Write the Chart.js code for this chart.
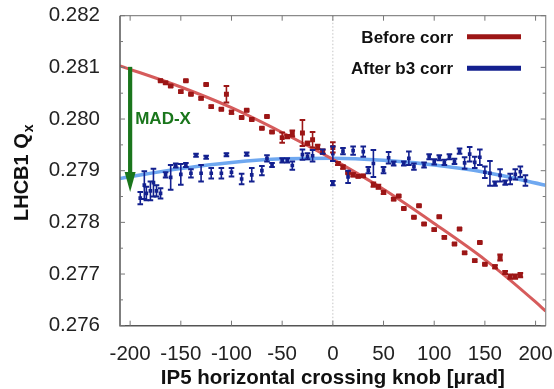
<!DOCTYPE html>
<html><head><meta charset="utf-8">
<script src="https://cdn.jsdelivr.net/npm/chart.js@4/dist/chart.umd.min.js"></script>
<style>html,body{margin:0;padding:0;background:#fff}#wrap{width:554px;height:389px;position:relative}</style>
</head><body><div id="wrap"><canvas id="c"></canvas></div>
<script>
// ---- data ----
const xTicks = [-200,-150,-100,-50,0,50,100,150,200];
const yTicks = [0.276,0.277,0.278,0.279,0.280,0.281,0.282];
const yMinorTicks = [0.2765,0.2775,0.2785,0.2795,0.2805,0.2815];

const redX = [-170,-165,-160,-150,-145,-140,-130,-125,-120,-110,-105,-100,-90,-85,-80,-70,-65,-60,-50,-45,-40,-30,-25,-20,-15,-10,0,5,10,15,20,25,30,40,45,50,60,65,70,80,85,90,100,105,110,120,125,130,140,145,150,160,165,170,175,180,185];
const redY = [0.28074,0.28070,0.28064,0.28053,0.28074,0.28048,0.28040,0.28067,0.28024,0.28019,0.28048,0.28013,0.28003,0.28017,0.27999,0.27982,0.28005,0.27975,0.27964,0.27966,0.27972,0.27973,0.27953,0.27960,0.27946,0.27937,0.27945,0.27914,0.27907,0.27896,0.27892,0.27889,0.27890,0.27873,0.27869,0.27858,0.27845,0.27851,0.27827,0.27810,0.27832,0.27797,0.27786,0.27811,0.27771,0.27758,0.27787,0.27741,0.27726,0.27761,0.27719,0.27714,0.27732,0.27703,0.27695,0.27695,0.27698];
const redErr = [0.00002,0.00002,0.00002,0.00002,0.00002,0.00002,0.00002,0.00002,0.00002,0.00002,0.00016,0.00003,0.00002,0.00002,0.00002,0.00002,0.00002,0.00002,0.00010,0.00003,0.00006,0.00025,0.00003,0.00015,0.00004,0.00004,0.00010,0.00003,0.00003,0.00002,0.00003,0.00002,0.00002,0.00004,0.00004,0.00003,0.00002,0.00002,0.00002,0.00002,0.00002,0.00002,0.00002,0.00002,0.00002,0.00002,0.00002,0.00002,0.00002,0.00002,0.00002,0.00003,0.00006,0.00003,0.00004,0.00004,0.00004];

const blueX = [-190,-186,-184,-180,-177,-174,-170,-165,-160,-155,-150,-145,-140,-135,-130,-125,-120,-110,-105,-100,-90,-85,-80,-70,-65,-60,-50,-45,-40,-30,-25,-20,-10,0,0,10,15,20,30,35,40,50,55,60,70,75,80,90,95,100,105,110,115,120,125,130,135,140,145,150,155,160,165,170,175,180,185,190];
const blueY = [0.27847,0.27872,0.27856,0.27861,0.27877,0.27861,0.27856,0.27892,0.27887,0.27910,0.27893,0.27911,0.27895,0.27930,0.27895,0.27926,0.27895,0.27895,0.27931,0.27897,0.27884,0.27932,0.27892,0.27900,0.27924,0.27911,0.27920,0.27920,0.27910,0.27931,0.27928,0.27929,0.27937,0.27933,0.27876,0.27938,0.27888,0.27939,0.27937,0.27901,0.27914,0.27901,0.27925,0.27914,0.27914,0.27924,0.27908,0.27911,0.27927,0.27917,0.27925,0.27916,0.27927,0.27918,0.27938,0.27915,0.27932,0.27916,0.27926,0.27897,0.27895,0.27875,0.27891,0.27877,0.27884,0.27893,0.27898,0.27881];
const blueErr = [0.00012,0.00027,0.00013,0.00018,0.00027,0.00011,0.00010,0.00005,0.00024,0.00004,0.00020,0.00004,0.00008,0.00003,0.00016,0.00003,0.00010,0.00010,0.00003,0.00008,0.00010,0.00003,0.00013,0.00009,0.00006,0.00004,0.00004,0.00004,0.00008,0.00010,0.00006,0.00011,0.00004,0.00014,0.00004,0.00006,0.00012,0.00008,0.00010,0.00006,0.00026,0.00006,0.00011,0.00004,0.00004,0.00013,0.00006,0.00005,0.00005,0.00005,0.00005,0.00005,0.00005,0.00005,0.00005,0.00011,0.00014,0.00011,0.00015,0.00011,0.00024,0.00004,0.00012,0.00004,0.00010,0.00010,0.00010,0.00010];

const redFitX = [-210,-150,-100,-50,0,50,100,150,200,210];
const redFitY = [0.28103,0.28062,0.28022,0.27974,0.27922,0.27864,0.27798,0.27728,0.27646,0.27628];
const blueFitX = [-210,-150,-100,-50,0,50,100,150,210];
const blueFitY = [0.27885,0.27904,0.27916,0.27923,0.27924,0.27920,0.27911,0.27897,0.27872];

const legendLabels = ['Before corr','After b3 corr'];
const arrowLabel = 'MAD-X';
const arrowX = -200, arrowTop = 0.28101, arrowTip = 0.27859;
const arrowLabelX = -195, arrowLabelY = 0.27999;
const xTitle = 'IP5 horizontal crossing knob [\u03bcrad]';
const yTitleMain = 'LHCB1 Q', yTitleSub = 'x';

// ---- styling ----
const FONT = '"Liberation Sans", Arial, Helvetica, sans-serif';
const RED = '#9c1616', BLUE = '#13208f', RED_FIT = '#d65c5c', BLUE_FIT = '#6fa8f0', GREEN = '#1a761c';

const pts = (xs, ys) => xs.map((v, i) => ({x: v, y: ys[i]}));
const noPad = s => { s.paddingLeft = 0; s.paddingRight = 0; s.paddingTop = 0; s.paddingBottom = 0; };

const deco = {
  id: 'deco',
  beforeDatasetsDraw(chart) {
    const {ctx, chartArea: a, scales: {x}} = chart;
    ctx.save();
    const zx = x.getPixelForValue(0);
    ctx.strokeStyle = '#c4c4c4'; ctx.lineWidth = 1; ctx.setLineDash([1.5, 2]);
    ctx.beginPath(); ctx.moveTo(zx, a.top); ctx.lineTo(zx, a.bottom); ctx.stroke();
    ctx.restore();
  },
  afterDatasetsDraw(chart) {
    const {ctx, chartArea: a, scales: {x, y}} = chart;
    ctx.save();
    // error bars
    const bars = (xs, ys, es, col) => {
      ctx.strokeStyle = col;
      xs.forEach((xv, i) => {
        const px = x.getPixelForValue(xv);
        const p1 = y.getPixelForValue(ys[i] - es[i]);
        const p2 = y.getPixelForValue(ys[i] + es[i]);
        ctx.lineWidth = 1.6;
        ctx.beginPath(); ctx.moveTo(px, p1); ctx.lineTo(px, p2); ctx.stroke();
        ctx.lineWidth = 2;
        ctx.beginPath();
        ctx.moveTo(px - 2.8, p1); ctx.lineTo(px + 2.8, p1);
        ctx.moveTo(px - 2.8, p2); ctx.lineTo(px + 2.8, p2);
        ctx.stroke();
      });
    };
    bars(redX, redY, redErr, RED);
    bars(blueX, blueY, blueErr, BLUE);

    // frame
    ctx.lineWidth = 1.2; ctx.strokeStyle = '#8a8a8a';
    ctx.beginPath();
    ctx.moveTo(a.left, a.top); ctx.lineTo(a.right, a.top); ctx.lineTo(a.right, a.bottom);
    ctx.stroke();
    ctx.lineWidth = 1.5; ctx.strokeStyle = '#555';
    ctx.beginPath();
    ctx.moveTo(a.left, a.top); ctx.lineTo(a.left, a.bottom); ctx.lineTo(a.right, a.bottom);
    ctx.stroke();
    // inward ticks
    ctx.lineWidth = 1; ctx.strokeStyle = '#777';
    ctx.beginPath();
    xTicks.forEach(v => {
      const px = x.getPixelForValue(v);
      ctx.moveTo(px, a.bottom); ctx.lineTo(px, a.bottom - 5);
      ctx.moveTo(px, a.top); ctx.lineTo(px, a.top + 5);
    });
    yTicks.forEach(v => {
      const py = y.getPixelForValue(v);
      ctx.moveTo(a.left, py); ctx.lineTo(a.left + 5, py);
      ctx.moveTo(a.right, py); ctx.lineTo(a.right - 5, py);
    });
    yMinorTicks.forEach(v => {
      const py = y.getPixelForValue(v);
      ctx.moveTo(a.left, py); ctx.lineTo(a.left + 3, py);
      ctx.moveTo(a.right, py); ctx.lineTo(a.right - 3, py);
    });
    ctx.stroke();

    // MAD-X arrow
    const ax = x.getPixelForValue(arrowX);
    const aTop = y.getPixelForValue(arrowTop);
    const aTip = y.getPixelForValue(arrowTip);
    ctx.strokeStyle = GREEN; ctx.fillStyle = GREEN; ctx.lineWidth = 4.2;
    ctx.beginPath(); ctx.moveTo(ax, aTop); ctx.lineTo(ax, aTip - 16); ctx.stroke();
    ctx.beginPath();
    ctx.moveTo(ax - 5.5, aTip - 20); ctx.lineTo(ax + 5.5, aTip - 20); ctx.lineTo(ax, aTip);
    ctx.closePath(); ctx.fill();
    ctx.font = 'bold 17px ' + FONT; ctx.textAlign = 'left'; ctx.textBaseline = 'middle';
    ctx.fillText(arrowLabel, x.getPixelForValue(arrowLabelX), y.getPixelForValue(arrowLabelY));

    // legend (text then line sample)
    ctx.font = 'bold 17px ' + FONT; ctx.textAlign = 'right'; ctx.textBaseline = 'alphabetic';
    const legCols = [RED, BLUE];
    legendLabels.forEach((t, i) => {
      const by = a.top + 27 + i * 31.5;
      ctx.fillStyle = '#111';
      ctx.fillText(t, a.left + 333, by);
      ctx.strokeStyle = legCols[i]; ctx.lineWidth = 5;
      ctx.beginPath(); ctx.moveTo(a.left + 347, by - 6); ctx.lineTo(a.left + 401, by - 6); ctx.stroke();
    });
    ctx.restore();
  },
  afterDraw(chart) {
    const {ctx, chartArea: a} = chart;
    ctx.save();
    ctx.fillStyle = '#111';
    const cy = (a.top + a.bottom) / 2 + 2;
    ctx.translate(28, cy);
    ctx.rotate(-Math.PI / 2);
    ctx.font = 'bold 20px ' + FONT;
    const w1 = ctx.measureText(yTitleMain).width;
    ctx.font = 'bold 14px ' + FONT;
    const w2 = ctx.measureText(yTitleSub).width;
    const sx = -(w1 + w2 + 1) / 2;
    ctx.textAlign = 'left'; ctx.textBaseline = 'alphabetic';
    ctx.font = 'bold 20px ' + FONT;
    ctx.fillText(yTitleMain, sx, 0);
    ctx.font = 'bold 14px ' + FONT;
    ctx.fillText(yTitleSub, sx + w1 + 1, 5);
    ctx.restore();
  }
};

new Chart(document.getElementById('c'), {
  type: 'scatter',
  data: {
    datasets: [
      {label: legendLabels[0], data: pts(redX, redY), backgroundColor: RED, borderColor: RED,
       pointStyle: 'rect', pointRadius: 3.5, pointBorderWidth: 0, order: 0},
      {label: legendLabels[1], data: pts(blueX, blueY), backgroundColor: BLUE, borderColor: BLUE,
       pointStyle: 'rect', pointRadius: 2.6, pointBorderWidth: 0, order: 0},
      {label: 'fit1', data: pts(redFitX, redFitY), showLine: true, borderColor: RED_FIT, borderWidth: 3,
       pointRadius: 0, cubicInterpolationMode: 'monotone', order: 1},
      {label: 'fit2', data: pts(blueFitX, blueFitY), showLine: true, borderColor: BLUE_FIT, borderWidth: 3.5,
       pointRadius: 0, cubicInterpolationMode: 'monotone', order: 1}
    ]
  },
  options: {
    responsive: true, maintainAspectRatio: false, animation: false, devicePixelRatio: 1,
    layout: {padding: {left: 0, right: 8.3, top: 15.7, bottom: 0}},
    plugins: {legend: {display: false}, tooltip: {enabled: false}},
    scales: {
      x: {
        type: 'linear', min: -210, max: 210,
        afterBuildTicks: s => { s.ticks = xTicks.map(v => ({value: v})); },
        afterFit: s => { s.height = 63.3; noPad(s); },
        grid: {display: false}, border: {display: false},
        ticks: {font: {family: FONT, size: 20.5}, color: '#222', padding: 8, maxRotation: 0, autoSkip: false,
                callback: v => String(v)},
        title: {display: true, text: xTitle, font: {family: FONT, size: 20.5, weight: 'bold'}, color: '#111',
                padding: {top: 0, bottom: -2}}
      },
      y: {
        type: 'linear', min: 0.276, max: 0.282,
        afterBuildTicks: s => { s.ticks = yTicks.map(v => ({value: v})); },
        afterFit: s => { s.width = 120; noPad(s); },
        grid: {display: false}, border: {display: false},
        ticks: {font: {family: FONT, size: 20.5}, color: '#222', padding: 12, autoSkip: false,
                callback: v => v.toFixed(3)}
      }
    }
  },
  plugins: [deco]
});
</script></body></html>
